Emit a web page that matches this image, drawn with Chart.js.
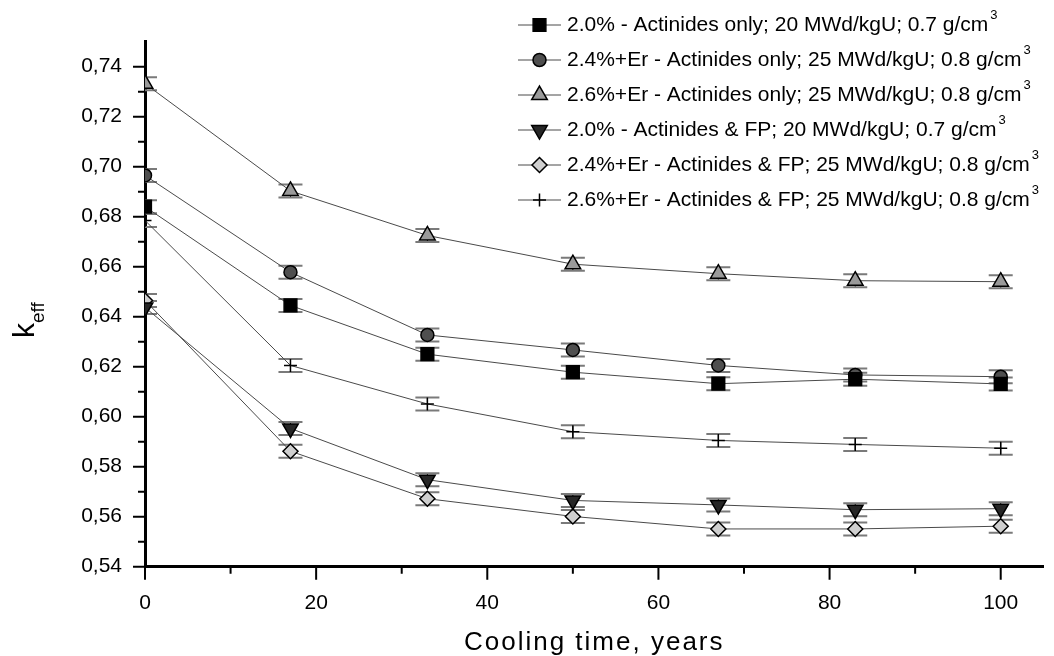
<!DOCTYPE html>
<html>
<head>
<meta charset="utf-8">
<script src="https://cdn.jsdelivr.net/npm/chart.js@4"></script>
<style>
    body { margin: 0; background: #fff; }
    #wrap { width: 1054px; height: 656px; }
</style>
</head>
<body>
<div id="wrap"><canvas id="keffChart" width="1054" height="656"></canvas></div>
<script>
// Data
const coolingYears = [0, 17, 33, 50, 67, 83, 100];

const keff20Act = [0.684, 0.6445, 0.625, 0.6178, 0.6132, 0.615, 0.6131];
const keff24ErAct = [0.6965, 0.6578, 0.6327, 0.6267, 0.6205, 0.6167, 0.616];
const keff26ErAct = [0.7332, 0.6903, 0.6725, 0.661, 0.6572, 0.6544, 0.654];
const keff20ActFP = [0.6437, 0.5953, 0.5748, 0.5665, 0.5647, 0.5628, 0.5632];
const keff24ErActFP = [0.6465, 0.5862, 0.5672, 0.5601, 0.5551, 0.5551, 0.5562];
const keff26ErActFP = [0.6785, 0.6205, 0.6051, 0.594, 0.5905, 0.5889, 0.5874];

const keffError = 0.0026;

const seriesLabels = [
    '2.0% - Actinides only; 20 MWd/kgU; 0.7 g/cm',
    '2.4%+Er - Actinides only; 25 MWd/kgU; 0.8 g/cm',
    '2.6%+Er - Actinides only; 25 MWd/kgU; 0.8 g/cm',
    '2.0% - Actinides & FP; 20 MWd/kgU; 0.7 g/cm',
    '2.4%+Er - Actinides & FP; 25 MWd/kgU; 0.8 g/cm',
    '2.6%+Er - Actinides & FP; 25 MWd/kgU; 0.8 g/cm'
];

const xTickStep = 20;
const yTickStep = 0.02;

// marker look per series
const markers = [
    { style: 'rect', radius: 9, rotation: 0, fill: '#000' },
    { style: 'circle', radius: 6.5, rotation: 0, fill: '#4f4f4f' },
    { style: 'triangle', radius: 9, rotation: 0, fill: '#9a9a9a' },
    { style: 'triangle', radius: 9, rotation: 180, fill: '#262626' },
    { style: 'rectRot', radius: 7.5, rotation: 0, fill: '#cfcfcf' },
    { style: 'cross', radius: 6.5, rotation: 0, fill: '#000' }
];

const allSeries = [keff20Act, keff24ErAct, keff26ErAct, keff20ActFP, keff24ErActFP, keff26ErActFP];

const datasets = allSeries.map((values, i) => ({
    label: seriesLabels[i],
    data: values.map((v, j) => ({ x: coolingYears[j], y: v })),
    borderColor: '#4a4a4a',
    borderWidth: 1,
    pointStyle: markers[i].style,
    pointRadius: markers[i].radius,
    pointRotation: markers[i].rotation,
    pointBackgroundColor: markers[i].fill,
    pointBorderColor: '#000',
    pointBorderWidth: 1.5,
    pointHoverRadius: markers[i].radius,
    tension: 0,
    clip: 0
}));

// error bars with caps, behind the markers
const errorBars = {
    id: 'errorBars',
    beforeDatasetsDraw(chart) {
        const { ctx, chartArea, scales: { x, y } } = chart;
        ctx.save();
        ctx.beginPath();
        ctx.rect(chartArea.left, chartArea.top, chartArea.width, chartArea.height);
        ctx.clip();
        chart.data.datasets.forEach(ds => {
            ds.data.forEach(p => {
                const px = x.getPixelForValue(p.x);
                const top = y.getPixelForValue(p.y + keffError);
                const bot = y.getPixelForValue(p.y - keffError);
                ctx.strokeStyle = '#000';
                ctx.lineWidth = 1;
                ctx.beginPath();
                ctx.moveTo(px, top);
                ctx.lineTo(px, bot);
                ctx.stroke();
                ctx.strokeStyle = '#7a7a7a';
                ctx.lineWidth = 2;
                ctx.beginPath();
                ctx.moveTo(px - 12, top);
                ctx.lineTo(px + 12, top);
                ctx.moveTo(px - 12, bot);
                ctx.lineTo(px + 12, bot);
                ctx.stroke();
            });
        });
        ctx.restore();
    }
};

// tick marks (major + minor), axis titles and the legend
const decorations = {
    id: 'decorations',
    afterDraw(chart) {
        const { ctx, chartArea, scales: { x, y } } = chart;
        ctx.save();
        ctx.strokeStyle = '#000';
        ctx.lineWidth = 2;
        ctx.beginPath();
        x.ticks.forEach(t => {
            const px = x.getPixelForValue(t.value);
            ctx.moveTo(px, chartArea.bottom);
            ctx.lineTo(px, chartArea.bottom + 13);
            const mx = x.getPixelForValue(t.value + xTickStep / 2);
            if (mx < chartArea.right) {
                ctx.moveTo(mx, chartArea.bottom);
                ctx.lineTo(mx, chartArea.bottom + 7);
            }
        });
        y.ticks.forEach(t => {
            const py = y.getPixelForValue(t.value);
            ctx.moveTo(chartArea.left, py);
            ctx.lineTo(chartArea.left - 12, py);
            const my = y.getPixelForValue(t.value + yTickStep / 2);
            if (my > chartArea.top) {
                ctx.moveTo(chartArea.left, my);
                ctx.lineTo(chartArea.left - 7, my);
            }
        });
        ctx.stroke();

        // x title
        ctx.fillStyle = '#000';
        ctx.font = '26px Arial, "Liberation Sans", sans-serif';
        ctx.letterSpacing = '2px';
        ctx.textAlign = 'center';
        ctx.textBaseline = 'alphabetic';
        ctx.fillText('Cooling time, years', (chartArea.left + chartArea.right) / 2, 650);
        ctx.letterSpacing = '0px';

        // y title: k with subscript eff
        ctx.save();
        ctx.translate(34, 338);
        ctx.rotate(-Math.PI / 2);
        ctx.textAlign = 'left';
        ctx.font = '30px Arial, "Liberation Sans", sans-serif';
        ctx.fillText('k', 0, 0);
        const kw = ctx.measureText('k').width;
        ctx.font = '19px Arial, "Liberation Sans", sans-serif';
        ctx.fillText('eff', kw, 10);
        ctx.restore();

        // legend
        const legendX = 518, legendY = 25, rowGap = 35;
        seriesLabels.forEach((label, i) => {
            const ly = legendY + i * rowGap;
            ctx.strokeStyle = '#4a4a4a';
            ctx.lineWidth = 1;
            ctx.beginPath();
            ctx.moveTo(legendX, ly);
            ctx.lineTo(legendX + 43, ly);
            ctx.stroke();
            const m = markers[i];
            ctx.fillStyle = m.fill;
            ctx.strokeStyle = '#000';
            ctx.lineWidth = 1.5;
            Chart.helpers.drawPoint(ctx, {
                pointStyle: m.style, radius: m.radius, rotation: m.rotation, borderWidth: 1.5
            }, legendX + 21.5, ly);

            ctx.fillStyle = '#000';
            ctx.font = '21px Arial, "Liberation Sans", sans-serif';
            ctx.textAlign = 'left';
            ctx.textBaseline = 'middle';
            ctx.fillText(label, legendX + 49, ly);
            const w = ctx.measureText(label).width;
            ctx.font = '13px Arial, "Liberation Sans", sans-serif';
            ctx.fillText('3', legendX + 51 + w, ly - 10);
        });
        ctx.restore();
    }
};

new Chart(document.getElementById('keffChart').getContext('2d'), {
    type: 'line',
    data: { datasets: datasets },
    options: {
        responsive: false,
        animation: false,
        layout: { padding: { top: 41.7, right: 9, left: 0, bottom: 0 } },
        plugins: {
            legend: { display: false },
            tooltip: { enabled: false }
        },
        scales: {
            x: {
                type: 'linear',
                min: 0,
                max: 105,
                afterFit: s => { s.height = 89.3; },
                grid: { display: true, drawOnChartArea: false, drawTicks: false },
                border: { display: true, color: '#000', width: 3 },
                ticks: {
                    stepSize: xTickStep,
                    includeBounds: false,
                    color: '#000',
                    padding: 24,
                    font: { family: 'Arial, "Liberation Sans", sans-serif', size: 21 }
                }
            },
            y: {
                type: 'linear',
                min: 0.54,
                max: 0.75,
                afterFit: s => { s.width = 145; },
                grid: { display: true, drawOnChartArea: false, drawTicks: false },
                border: { display: true, color: '#000', width: 3 },
                ticks: {
                    stepSize: yTickStep,
                    includeBounds: false,
                    color: '#000',
                    padding: 23,
                    font: { family: 'Arial, "Liberation Sans", sans-serif', size: 21 },
                    callback: v => v.toFixed(2).replace('.', ',')
                }
            }
        }
    },
    plugins: [errorBars, decorations]
});
</script>
</body>
</html>
